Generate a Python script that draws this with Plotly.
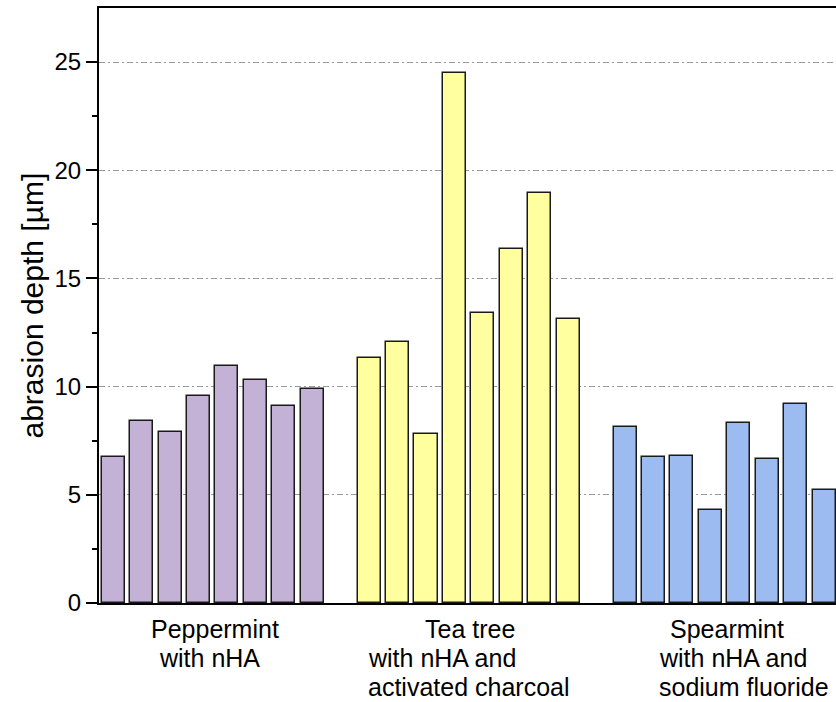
import plotly.graph_objects as go

# ---- data ----
group_names = ["Peppermint", "Tea tree", "Spearmint"]
group_label_lines = [
    ["Peppermint", "with nHA"],
    ["Tea tree", "with nHA and", "activated charcoal"],
    ["Spearmint", "with nHA and", "sodium fluoride"],
]
peppermint = [6.74, 8.40, 7.92, 9.55, 10.95, 10.30, 9.12, 9.89]
tea_tree = [11.32, 12.07, 7.81, 24.50, 13.41, 16.34, 18.93, 13.11]
spearmint = [8.14, 6.77, 6.80, 4.31, 8.32, 6.66, 9.20, 5.24]
y_ticks = [0, 5, 10, 15, 20, 25]

groups = [peppermint, tea_tree, spearmint]
colors = ["#C3B2D6", "#FFFFA0", "#9CBBF0"]

# pixel offsets of label lines (left edge relative to group centre) and vertical shifts
line_xshift = [[-63.7, -55.7], [-45.3, -102.6, -102.6], [-56.2, -67.8, -67.8]]
line_yshift = [-10, -39, -68]

fig = go.Figure()
pos = 0
centers = []
for vals, col, name in zip(groups, colors, group_names):
    xs = list(range(pos, pos + len(vals)))
    centers.append((xs[0] + xs[-1]) / 2)
    fig.add_trace(go.Bar(
        x=xs, y=vals, name=name, width=0.81,
        marker=dict(color=col, line=dict(color="#1a1a1a", width=1.5)),
        showlegend=False,
    ))
    pos += len(vals) + 1

for c, lines, xsh in zip(centers, group_label_lines, line_xshift):
    for i, (txt, dx) in enumerate(zip(lines, xsh)):
        fig.add_annotation(
            x=c, xref="x", y=0, yref="paper", text=txt, showarrow=False,
            xanchor="left", yanchor="top", xshift=dx, yshift=line_yshift[i],
            font=dict(family="Liberation Sans, Arial", size=25, color="black"),
        )

fig.add_annotation(
    x=0, xref="paper", y=0.5, yref="paper", text="abrasion depth [µm]",
    textangle=-90, showarrow=False, xanchor="center", yanchor="middle",
    xshift=-67, font=dict(family="Liberation Sans, Arial", size=30, color="black"),
)

fig.update_layout(
    width=836, height=702,
    margin=dict(l=99, r=0, t=8, b=99),
    plot_bgcolor="white", paper_bgcolor="white",
    bargap=0,
    font=dict(family="Liberation Sans, Arial", color="black"),
)
fig.update_xaxes(
    range=[-0.5, 25.42], showgrid=False, zeroline=False,
    showline=True, linecolor="black", linewidth=2, mirror=True,
    ticks="", showticklabels=False,
)
fig.update_yaxes(
    range=[0, 27.5], tickvals=y_ticks, ticktext=[str(v) for v in y_ticks],
    ticks="outside", ticklen=11, tickwidth=2, tickcolor="black",
    tickfont=dict(family="Liberation Sans, Arial", size=24, color="black"),
    showline=True, linecolor="black", linewidth=2, zeroline=False,
    showgrid=True, gridcolor="#9a9a9a", gridwidth=1, griddash="6px,3px,2px,3px",
    minor=dict(tickvals=[2.5, 7.5, 12.5, 17.5, 22.5], ticks="outside", ticklen=5,
               tickwidth=2, tickcolor="black", showgrid=False),
)

fig.write_html("out.html")
